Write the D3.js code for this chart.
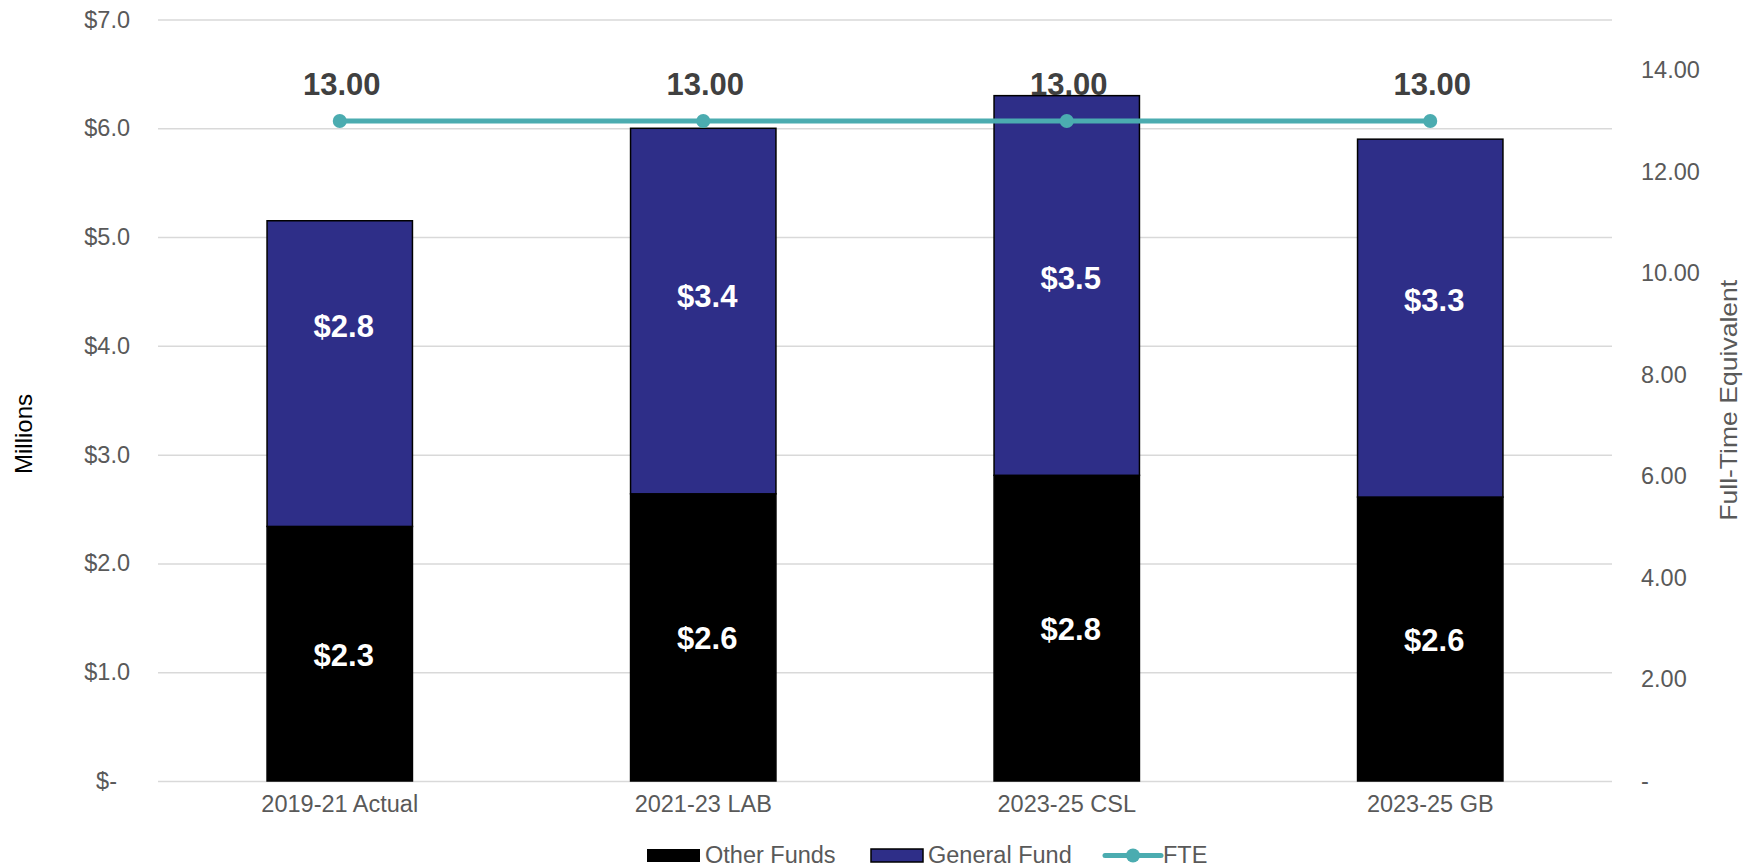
<!DOCTYPE html>
<html>
<head>
<meta charset="utf-8">
<script src="https://cdn.jsdelivr.net/npm/d3@7"></script>
<style>
  html, body { margin: 0; padding: 0; background: #fff; }
  svg { display: block; font-family: "Liberation Sans", Arial, sans-serif; }
</style>
</head>
<body>
<svg id="chart" width="1762" height="868"></svg>
<script>
// ---- data ----
const categories = ["2019-21 Actual", "2021-23 LAB", "2023-25 CSL", "2023-25 GB"];
const otherFunds = [2.34, 2.64, 2.81, 2.61];
const generalFund = [2.81, 3.36, 3.49, 3.29];
const fte = [13.00, 13.00, 13.00, 13.00];
const leftTicks = [0, 1, 2, 3, 4, 5, 6, 7];
const rightTicks = [0, 2, 4, 6, 8, 10, 12, 14];
const seriesNames = ["Other Funds", "General Fund", "FTE"];

// ---- layout / style constants ----
const plot = { left: 158, right: 1612, top: 19.5, bottom: 781 };
const colors = { other: "#000000", general: "#2E2E88", fte: "#4BACB0", grid: "#D9D9D9", tick: "#595959" };
const gfLabelNudge = [-47, -15, -7, -18]; // manual label placement in the original

const svg = d3.select("#chart");

const x = d3.scaleBand().domain(categories).range([plot.left, plot.right])
  .paddingInner(0.6).paddingOuter(0.3);
const yL = d3.scaleLinear().domain([0, 7]).range([plot.bottom, plot.top]);
const yR = d3.scaleLinear().domain([0, 15]).range([plot.bottom, plot.top]);

// gridlines
const grid = svg.append("g").attr("transform", `translate(${plot.left},0)`)
  .call(d3.axisLeft(yL).tickValues(leftTicks).tickSize(-(plot.right - plot.left)).tickFormat(""));
grid.select(".domain").remove();
grid.selectAll("line").attr("stroke", colors.grid).attr("stroke-width", 1.5);

// left axis
const fmtL = d => d === 0 ? "$-" : "$" + d.toFixed(1);
const axL = svg.append("g").attr("transform", `translate(${plot.left},0)`)
  .call(d3.axisLeft(yL).tickValues(leftTicks).tickSize(0).tickPadding(28).tickFormat(fmtL));
axL.select(".domain").remove();
axL.selectAll("text").attr("fill", colors.tick).style("font-size", "23.5px")
  .attr("dx", d => d === 0 ? -13 : 0);

// right axis
const fmtR = d => d === 0 ? "-" : d.toFixed(2);
const axR = svg.append("g").attr("transform", `translate(${plot.right},0)`)
  .call(d3.axisRight(yR).tickValues(rightTicks).tickSize(0).tickPadding(29).tickFormat(fmtR));
axR.select(".domain").remove();
axR.selectAll("text").attr("fill", colors.tick).style("font-size", "23.5px");

// x axis
const axX = svg.append("g").attr("transform", `translate(0,${plot.bottom})`)
  .call(d3.axisBottom(x).tickSize(0).tickPadding(14));
axX.select(".domain").remove();
axX.selectAll("text").attr("fill", colors.tick).style("font-size", "23.5px");

// axis titles
svg.append("text").attr("transform", "translate(32,434) rotate(-90)")
  .attr("text-anchor", "middle").attr("fill", "#000").style("font-size", "24px").text("Millions");
svg.append("text").attr("transform", `translate(1737,${(plot.top + plot.bottom) / 2}) rotate(-90)`)
  .attr("text-anchor", "middle").attr("fill", colors.tick).style("font-size", "24px")
  .attr("textLength", 241).attr("lengthAdjust", "spacingAndGlyphs")
  .text("Full-Time Equivalent");

// stacked bars
const rows = categories.map((c, i) => ({ cat: c, other: otherFunds[i], general: generalFund[i], i }));
const bars = svg.append("g");
bars.selectAll("rect.other").data(rows).join("rect").attr("class", "other")
  .attr("x", d => x(d.cat)).attr("width", x.bandwidth())
  .attr("y", d => yL(d.other)).attr("height", d => yL(0) - yL(d.other))
  .attr("fill", colors.other).attr("stroke", "#000").attr("stroke-width", 1.5);
bars.selectAll("rect.general").data(rows).join("rect").attr("class", "general")
  .attr("x", d => x(d.cat)).attr("width", x.bandwidth())
  .attr("y", d => yL(d.other + d.general)).attr("height", d => yL(d.other) - yL(d.other + d.general))
  .attr("fill", colors.general).attr("stroke", "#000").attr("stroke-width", 1.5);

// bar labels
const lbl = svg.append("g").attr("fill", "#fff").style("font-size", "31px").style("font-weight", "bold")
  .attr("text-anchor", "middle");
lbl.selectAll("text.o").data(rows).join("text").attr("class", "o")
  .attr("x", d => x(d.cat) + x.bandwidth() / 2 + 4)
  .attr("y", d => (yL(0) + yL(d.other)) / 2 + 1).attr("dy", "0.35em")
  .text(d => "$" + d.other.toFixed(1));
lbl.selectAll("text.g").data(rows).join("text").attr("class", "g")
  .attr("x", d => x(d.cat) + x.bandwidth() / 2 + 4)
  .attr("y", d => (yL(d.other) + yL(d.other + d.general)) / 2 + gfLabelNudge[d.i]).attr("dy", "0.35em")
  .text(d => "$" + d.general.toFixed(1));

// FTE line
const cx = c => x(c) + x.bandwidth() / 2;
const line = d3.line().x((d, i) => cx(categories[i])).y(d => yR(d));
svg.append("path").datum(fte).attr("d", line).attr("fill", "none")
  .attr("stroke", colors.fte).attr("stroke-width", 5);
svg.append("g").selectAll("circle").data(fte).join("circle")
  .attr("cx", (d, i) => cx(categories[i])).attr("cy", d => yR(d)).attr("r", 7)
  .attr("fill", colors.fte);
svg.append("g").selectAll("text").data(fte).join("text")
  .attr("x", (d, i) => cx(categories[i]) + 2).attr("y", d => yR(d) - 26)
  .attr("text-anchor", "middle").attr("fill", "#404040")
  .style("font-size", "31px").style("font-weight", "bold")
  .text(d => d.toFixed(2));

// legend
const leg = svg.append("g").style("font-size", "23.5px").attr("fill", colors.tick);
leg.append("rect").attr("x", 647).attr("y", 849).attr("width", 53).attr("height", 13)
  .attr("fill", colors.other);
leg.append("text").attr("x", 705).attr("y", 863).text(seriesNames[0]);
leg.append("rect").attr("x", 871).attr("y", 849).attr("width", 52).attr("height", 13)
  .attr("fill", colors.general).attr("stroke", "#000").attr("stroke-width", 1.5);
leg.append("text").attr("x", 928).attr("y", 863).text(seriesNames[1]);
leg.append("line").attr("x1", 1105).attr("x2", 1161).attr("y1", 855.5).attr("y2", 855.5)
  .attr("stroke", colors.fte).attr("stroke-width", 5).attr("stroke-linecap", "round");
leg.append("circle").attr("cx", 1133).attr("cy", 855.5).attr("r", 7).attr("fill", colors.fte);
leg.append("text").attr("x", 1163).attr("y", 863).text(seriesNames[2]);
</script>
</body>
</html>
